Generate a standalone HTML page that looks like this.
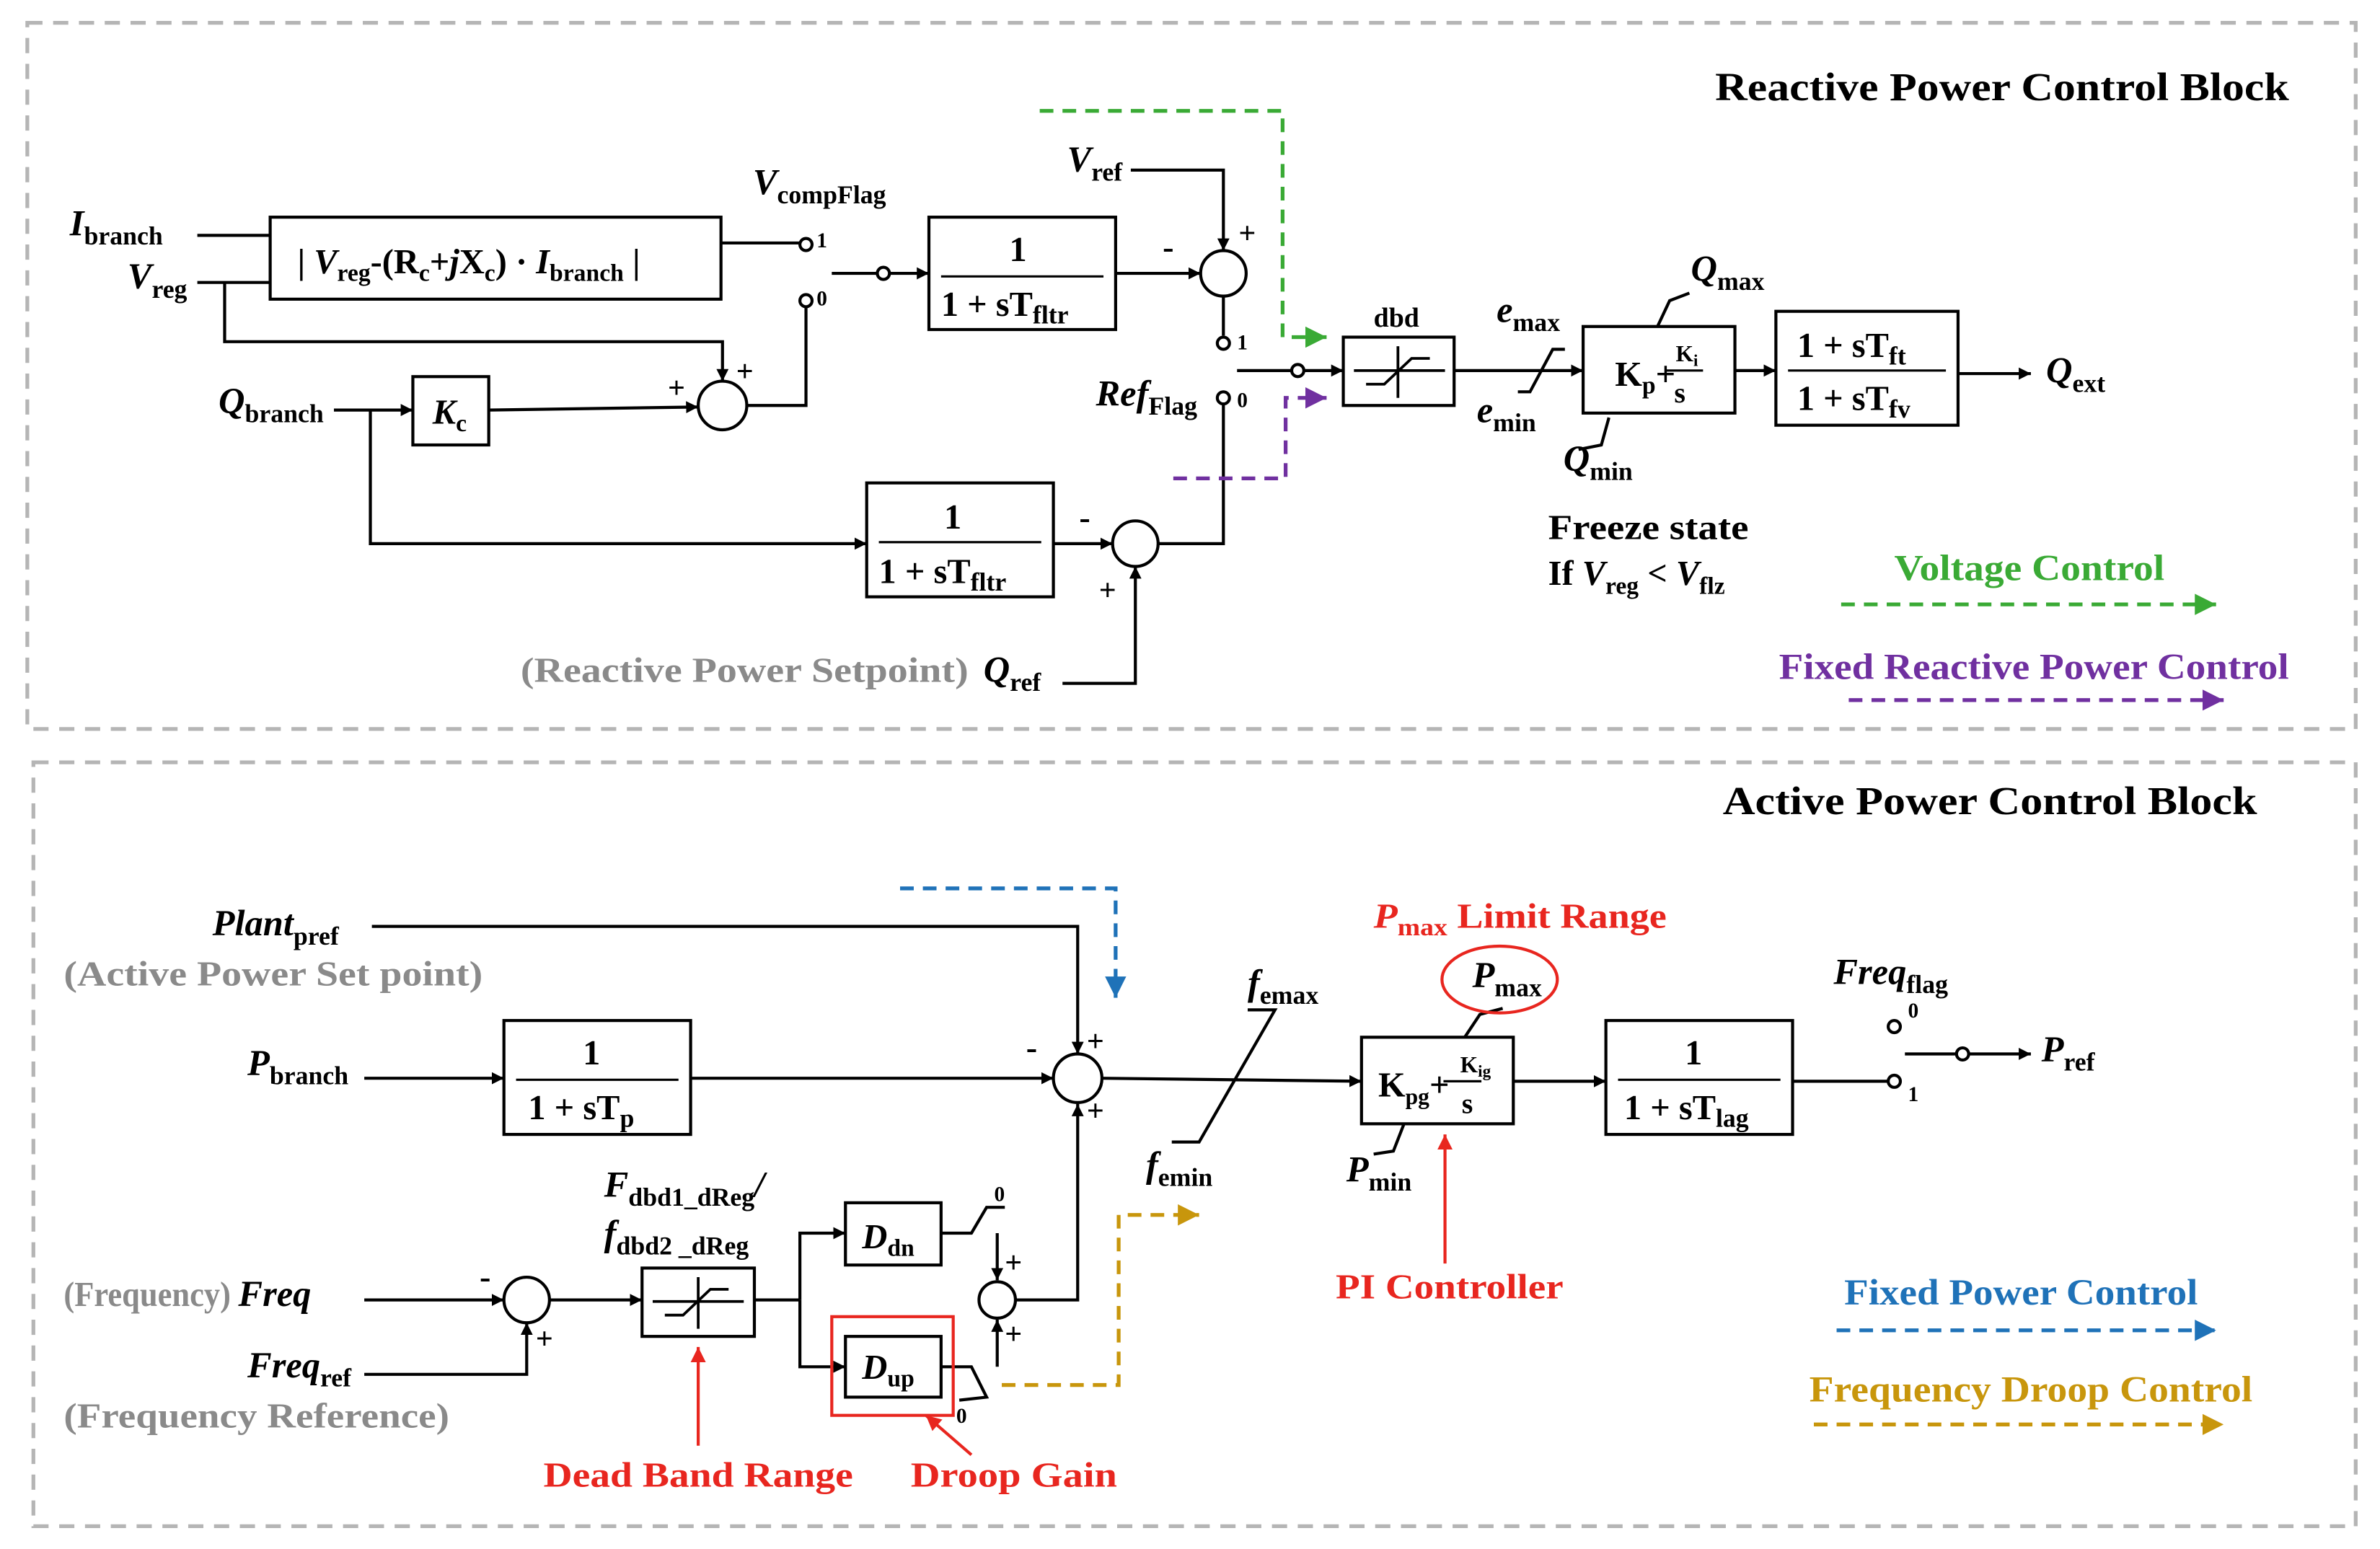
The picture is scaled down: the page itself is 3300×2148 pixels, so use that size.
<!DOCTYPE html>
<html><head><meta charset="utf-8"><style>
html,body{margin:0;padding:0;background:#fff;}
svg{display:block;}
text{font-family:"Liberation Serif",serif;font-weight:bold;fill:#000;}
.i{font-style:italic;}
.g{fill:#8a8a8a;}
.r{fill:#e8261f;}
</style></head><body>
<svg width="3300" height="2148" viewBox="0 0 1568 1020" preserveAspectRatio="none" xmlns="http://www.w3.org/2000/svg">
<defs>
<marker id="a" viewBox="0 0 10 10" refX="10" refY="5" markerWidth="8" markerHeight="8" orient="auto" markerUnits="userSpaceOnUse"><path d="M0,0 L10,5 L0,10 z" fill="#000"/></marker>
<marker id="ag" viewBox="0 0 10 10" refX="10" refY="5" markerWidth="14" markerHeight="14" orient="auto" markerUnits="userSpaceOnUse"><path d="M0,0 L10,5 L0,10 z" fill="#3aaa35"/></marker>
<marker id="ap" viewBox="0 0 10 10" refX="10" refY="5" markerWidth="14" markerHeight="14" orient="auto" markerUnits="userSpaceOnUse"><path d="M0,0 L10,5 L0,10 z" fill="#7030a0"/></marker>
<marker id="ab" viewBox="0 0 10 10" refX="10" refY="5" markerWidth="14" markerHeight="14" orient="auto" markerUnits="userSpaceOnUse"><path d="M0,0 L10,5 L0,10 z" fill="#1f72b8"/></marker>
<marker id="ay" viewBox="0 0 10 10" refX="10" refY="5" markerWidth="14" markerHeight="14" orient="auto" markerUnits="userSpaceOnUse"><path d="M0,0 L10,5 L0,10 z" fill="#c8960c"/></marker>
<marker id="ar" viewBox="0 0 10 10" refX="10" refY="5" markerWidth="10" markerHeight="10" orient="auto" markerUnits="userSpaceOnUse"><path d="M0,0 L10,5 L0,10 z" fill="#e8261f"/></marker>
</defs>
<rect width="1568" height="1020" fill="#fff"/>
<rect x="18" y="15" width="1534" height="465" fill="none" stroke="#b5b5b5" stroke-width="2.5" stroke-dasharray="10,7"/>
<rect x="22" y="502" width="1530" height="503" fill="none" stroke="#b5b5b5" stroke-width="2.5" stroke-dasharray="10,7"/>

<g stroke="#000" stroke-width="2" fill="none">
<line x1="130" y1="155" x2="178" y2="155"/>
<line x1="130" y1="186" x2="178" y2="186"/>
<rect x="178" y="143" width="297" height="54"/>
<line x1="475" y1="160" x2="527" y2="160"/>
<circle cx="531" cy="161" r="4"/>
<circle cx="531" cy="198" r="4"/>
<line x1="548" y1="180" x2="578" y2="180"/>
<circle cx="582" cy="180" r="4"/>
<line x1="586" y1="180" x2="612" y2="180" marker-end="url(#a)"/>
<rect x="612" y="143" width="123" height="74"/>
<line x1="735" y1="180" x2="791" y2="180" marker-end="url(#a)"/>
<circle cx="806" cy="180" r="15"/>
<polyline points="745,112 806,112 806,165" marker-end="url(#a)"/>
<line x1="806" y1="195" x2="806" y2="221"/>
<circle cx="806" cy="226" r="4"/>
<circle cx="806" cy="262" r="4"/>
<polyline points="763,358 806,358 806,266"/>
<line x1="815" y1="244" x2="851" y2="244"/>
<circle cx="855" cy="244" r="4"/>
<line x1="859" y1="244" x2="885" y2="244" marker-end="url(#a)"/>
<rect x="885" y="222" width="73" height="45"/>
<line x1="958" y1="244" x2="1043" y2="244" marker-end="url(#a)"/>
<polyline points="1000,258 1008,258 1023,230 1031,230"/>
<rect x="1043" y="215" width="100" height="57"/>
<polyline points="1113,193 1100,198 1092,215"/>
<polyline points="1060,275 1055,293 1040,296"/>
<line x1="1143" y1="244" x2="1170" y2="244" marker-end="url(#a)"/>
<rect x="1170" y="205" width="120" height="75"/>
<line x1="1290" y1="246" x2="1338" y2="246" marker-end="url(#a)"/>
<line x1="220" y1="270" x2="272" y2="270" marker-end="url(#a)"/>
<rect x="272" y="248" width="50" height="45"/>
<line x1="322" y1="270" x2="460" y2="268" marker-end="url(#a)"/>
<circle cx="476" cy="267" r="16"/>
<polyline points="148,186 148,225 476,225 476,251" marker-end="url(#a)"/>
<polyline points="492,267 531,267 531,202"/>
<polyline points="244,270 244,358 571,358" marker-end="url(#a)"/>
<rect x="571" y="318" width="123" height="75"/>
<line x1="694" y1="358" x2="733" y2="358" marker-end="url(#a)"/>
<circle cx="748" cy="358" r="15"/>
<polyline points="700,450 748,450 748,373" marker-end="url(#a)"/>
<polyline points="245,610 710,610 710,694" marker-end="url(#a)"/>
<line x1="240" y1="710" x2="332" y2="710" marker-end="url(#a)"/>
<rect x="332" y="672" width="123" height="75"/>
<line x1="455" y1="710" x2="694" y2="710" marker-end="url(#a)"/>
<circle cx="710" cy="710" r="16"/>
<line x1="726" y1="710" x2="897" y2="712" marker-end="url(#a)"/>
<polyline points="822,665 840,665 790,752 772,752"/>
<rect x="897" y="683" width="100" height="57"/>
<polyline points="990,664 975,668 965,683"/>
<polyline points="925,740 918,758 905,760"/>
<line x1="997" y1="712" x2="1058" y2="712" marker-end="url(#a)"/>
<rect x="1058" y="672" width="123" height="75"/>
<line x1="1181" y1="712" x2="1244" y2="712"/>
<circle cx="1248" cy="712" r="4"/>
<circle cx="1248" cy="676" r="4"/>
<line x1="1255" y1="694" x2="1289" y2="694"/>
<circle cx="1293" cy="694" r="4"/>
<line x1="1297" y1="694" x2="1338" y2="694" marker-end="url(#a)"/>
<line x1="240" y1="856" x2="332" y2="856" marker-end="url(#a)"/>
<circle cx="347" cy="856" r="15"/>
<polyline points="240,905 347,905 347,871" marker-end="url(#a)"/>
<line x1="362" y1="856" x2="423" y2="856" marker-end="url(#a)"/>
<rect x="423" y="835" width="74" height="45"/>
<line x1="497" y1="856" x2="527" y2="856"/>
<polyline points="527,856 527,812 557,812" marker-end="url(#a)"/>
<polyline points="527,856 527,900 557,900" marker-end="url(#a)"/>
<rect x="557" y="792" width="63" height="41"/>
<rect x="557" y="880" width="63" height="40"/>
<polyline points="620,812 640,812 650,795 662,795"/>
<line x1="657" y1="812" x2="657" y2="843" marker-end="url(#a)"/>
<circle cx="657" cy="856" r="12"/>
<polyline points="620,900 640,900 650,920 632,922"/>
<line x1="657" y1="900" x2="657" y2="869" marker-end="url(#a)"/>
<polyline points="669,856 710,856 710,727" marker-end="url(#a)"/>
</g>
<g stroke="#000" stroke-width="1.5">
<line x1="620" y1="182" x2="727" y2="182"/>
<line x1="579" y1="357" x2="686" y2="357"/>
<line x1="340" y1="711" x2="447" y2="711"/>
<line x1="1066" y1="711" x2="1173" y2="711"/>
<line x1="1178" y1="244" x2="1282" y2="244"/>
<line x1="1097" y1="244" x2="1122" y2="244"/>
<line x1="951" y1="712" x2="976" y2="712"/>
</g>
<g stroke="#000" stroke-width="1.8" fill="none">
<line x1="921" y1="228" x2="921" y2="262"/><line x1="892" y1="244" x2="952" y2="244"/>
<polyline points="900,253 912,253 930,236 942,236"/>
<line x1="460" y1="841" x2="460" y2="875"/><line x1="430" y1="857" x2="490" y2="857"/>
<polyline points="438,866 450,866 468,849 480,849"/>
</g>
<g fill="none" stroke-width="2.5" stroke-dasharray="9,6">
<polyline points="685,73 845,73 845,222 874,222" stroke="#3aaa35" marker-end="url(#ag)"/>
<polyline points="773,315 847,315 847,262 874,262" stroke="#7030a0" marker-end="url(#ap)"/>
<line x1="1213" y1="398" x2="1460" y2="398" stroke="#3aaa35" marker-end="url(#ag)"/>
<line x1="1218" y1="461" x2="1465" y2="461" stroke="#7030a0" marker-end="url(#ap)"/>
<polyline points="593,585 735,585 735,657" stroke="#1f72b8" marker-end="url(#ab)"/>
<polyline points="660,912 737,912 737,800 790,800" stroke="#c8960c" marker-end="url(#ay)"/>
<line x1="1210" y1="876" x2="1460" y2="876" stroke="#1f72b8" marker-end="url(#ab)"/>
<line x1="1195" y1="938" x2="1465" y2="938" stroke="#c8960c" marker-end="url(#ay)"/>
</g>
<g fill="none" stroke="#e8261f" stroke-width="2">
<ellipse cx="988" cy="645" rx="38" ry="22"/>
<rect x="548" y="867" width="80" height="65"/>
<line x1="952" y1="832" x2="952" y2="747" marker-end="url(#ar)"/>
<line x1="460" y1="952" x2="460" y2="887" marker-end="url(#ar)"/>
<line x1="640" y1="958" x2="610" y2="932" marker-end="url(#ar)"/>
</g>

<text x="1130" y="66" font-size="26" textLength="378" lengthAdjust="spacingAndGlyphs">Reactive Power Control Block</text>
<text x="46" y="155" font-size="24" class="i">I<tspan font-size="17" dy="6" font-style="normal">branch</tspan></text>
<text x="84" y="190" font-size="24" class="i">V<tspan font-size="17" dy="6" font-style="normal">reg</tspan></text>
<text x="196" y="180" font-size="23">| <tspan class="i">V</tspan><tspan font-size="16" dy="5">reg</tspan><tspan dy="-5">-(R</tspan><tspan font-size="16" dy="5">c</tspan><tspan dy="-5">+</tspan><tspan class="i">j</tspan><tspan>X</tspan><tspan font-size="16" dy="5">c</tspan><tspan dy="-5">) · </tspan><tspan class="i">I</tspan><tspan font-size="16" dy="5">branch</tspan><tspan dy="-5"> |</tspan></text>
<text x="496" y="128" font-size="24" class="i">V<tspan font-size="17" dy="6" font-style="normal">compFlag</tspan></text>
<text x="538" y="163" font-size="14">1</text>
<text x="538" y="201" font-size="14">0</text>
<text x="665" y="172" font-size="23">1</text>
<text x="620" y="208" font-size="23">1 + sT<tspan font-size="17" dy="5">fltr</tspan></text>
<text x="766" y="170" font-size="22">-</text>
<text x="816" y="160" font-size="20">+</text>
<text x="703" y="113" font-size="24" class="i">V<tspan font-size="17" dy="6" font-style="normal">ref</tspan></text>
<text x="815" y="230" font-size="14">1</text>
<text x="815" y="268" font-size="14">0</text>
<text x="722" y="267" font-size="24" class="i">Ref<tspan font-size="17" dy="6" font-style="normal">Flag</tspan></text>
<text x="905" y="215" font-size="18">dbd</text>
<text x="986" y="212" font-size="24" class="i">e<tspan font-size="17" dy="6" font-style="normal">max</tspan></text>
<text x="973" y="278" font-size="24" class="i">e<tspan font-size="17" dy="6" font-style="normal">min</tspan></text>
<text x="1064" y="254" font-size="23">K<tspan font-size="16" dy="5">p</tspan><tspan dy="-5">+</tspan></text>
<text x="1104" y="238" font-size="15">K<tspan font-size="11" dy="3">i</tspan></text>
<text x="1103" y="265" font-size="19">s</text>
<text x="1114" y="185" font-size="24" class="i">Q<tspan font-size="17" dy="6" font-style="normal">max</tspan></text>
<text x="1030" y="310" font-size="24" class="i">Q<tspan font-size="17" dy="6" font-style="normal">min</tspan></text>
<text x="1184" y="235" font-size="23">1 + sT<tspan font-size="17" dy="5">ft</tspan></text>
<text x="1184" y="270" font-size="23">1 + sT<tspan font-size="17" dy="5">fv</tspan></text>
<text x="1348" y="252" font-size="24" class="i">Q<tspan font-size="17" dy="6" font-style="normal">ext</tspan></text>
<text x="144" y="272" font-size="24" class="i">Q<tspan font-size="17" dy="6" font-style="normal">branch</tspan></text>
<text x="285" y="279" font-size="23" class="i">K<tspan font-size="16" dy="5" font-style="normal">c</tspan></text>
<text x="440" y="262" font-size="20">+</text>
<text x="485" y="251" font-size="20">+</text>
<text x="622" y="348" font-size="23">1</text>
<text x="579" y="384" font-size="23">1 + sT<tspan font-size="17" dy="5">fltr</tspan></text>
<text x="711" y="348" font-size="22">-</text>
<text x="724" y="395" font-size="20">+</text>
<text x="343" y="449" font-size="23" class="g" textLength="295" lengthAdjust="spacingAndGlyphs">(Reactive Power Setpoint)</text>
<text x="648" y="449" font-size="24" class="i">Q<tspan font-size="17" dy="6" font-style="normal">ref</tspan></text>
<text x="1020" y="355" font-size="23" textLength="132" lengthAdjust="spacingAndGlyphs">Freeze state</text>
<text x="1020" y="385" font-size="23">If <tspan class="i">V</tspan><tspan font-size="16" dy="6">reg</tspan><tspan dy="-6"> &lt; </tspan><tspan class="i">V</tspan><tspan font-size="16" dy="6">flz</tspan></text>
<text x="1248" y="382" font-size="24" style="fill:#3aaa35" textLength="178" lengthAdjust="spacingAndGlyphs">Voltage Control</text>
<text x="1172" y="447" font-size="24" style="fill:#7030a0" textLength="336" lengthAdjust="spacingAndGlyphs">Fixed Reactive Power Control</text>

<text x="1135" y="536" font-size="26" textLength="352" lengthAdjust="spacingAndGlyphs">Active Power Control Block</text>
<text x="140" y="616" font-size="24" class="i">Plant<tspan font-size="17" dy="6" font-style="normal">pref</tspan></text>
<text x="42" y="649" font-size="23" class="g" textLength="276" lengthAdjust="spacingAndGlyphs">(Active Power Set point)</text>
<text x="163" y="708" font-size="24" class="i">P<tspan font-size="17" dy="6" font-style="normal">branch</tspan></text>
<text x="384" y="701" font-size="23">1</text>
<text x="348" y="737" font-size="23">1 + sT<tspan font-size="17" dy="5">p</tspan></text>
<text x="676" y="697" font-size="22">-</text>
<text x="716" y="692" font-size="20">+</text>
<text x="716" y="738" font-size="20">+</text>
<text x="822" y="655" font-size="24" class="i">f<tspan font-size="17" dy="6" font-style="normal">emax</tspan></text>
<text x="755" y="775" font-size="24" class="i">f<tspan font-size="17" dy="6" font-style="normal">emin</tspan></text>
<text x="905" y="611" font-size="23" class="r" textLength="193" lengthAdjust="spacingAndGlyphs"><tspan class="i">P</tspan><tspan font-size="16" dy="5">max</tspan><tspan dy="-5"> Limit Range</tspan></text>
<text x="970" y="650" font-size="24" class="i">P<tspan font-size="17" dy="6" font-style="normal">max</tspan></text>
<text x="908" y="722" font-size="23">K<tspan font-size="15" dy="5">pg</tspan><tspan dy="-5">+</tspan></text>
<text x="962" y="706" font-size="15">K<tspan font-size="11" dy="3">ig</tspan></text>
<text x="963" y="733" font-size="19">s</text>
<text x="887" y="778" font-size="24" class="i">P<tspan font-size="17" dy="6" font-style="normal">min</tspan></text>
<text x="880" y="855" font-size="23" class="r" textLength="150" lengthAdjust="spacingAndGlyphs">PI Controller</text>
<text x="1110" y="701" font-size="23">1</text>
<text x="1070" y="737" font-size="23">1 + sT<tspan font-size="17" dy="5">lag</tspan></text>
<text x="1208" y="648" font-size="24" class="i">Freq<tspan font-size="17" dy="6" font-style="normal">flag</tspan></text>
<text x="1257" y="670" font-size="14">0</text>
<text x="1257" y="725" font-size="14">1</text>
<text x="1345" y="699" font-size="24" class="i">P<tspan font-size="17" dy="6" font-style="normal">ref</tspan></text>
<text x="42" y="860" font-size="23" class="g" textLength="110" lengthAdjust="spacingAndGlyphs">(Frequency)</text>
<text x="157" y="860" font-size="24" class="i">Freq</text>
<text x="316" y="848" font-size="22">-</text>
<text x="353" y="888" font-size="20">+</text>
<text x="163" y="907" font-size="24" class="i">Freq<tspan font-size="17" dy="6" font-style="normal">ref</tspan></text>
<text x="42" y="940" font-size="23" class="g" textLength="254" lengthAdjust="spacingAndGlyphs">(Frequency Reference)</text>
<text x="398" y="788" font-size="24" class="i">F<tspan font-size="17" dy="6" font-style="normal">dbd1_dReg</tspan><tspan dy="-6">/</tspan></text>
<text x="398" y="820" font-size="24" class="i">f<tspan font-size="17" dy="6" font-style="normal">dbd2 _dReg</tspan></text>
<text x="568" y="822" font-size="23" class="i">D<tspan font-size="16" dy="5" font-style="normal">dn</tspan></text>
<text x="568" y="908" font-size="23" class="i">D<tspan font-size="16" dy="5" font-style="normal">up</tspan></text>
<text x="655" y="791" font-size="14">0</text>
<text x="630" y="937" font-size="14">0</text>
<text x="662" y="838" font-size="20">+</text>
<text x="662" y="885" font-size="20">+</text>
<text x="358" y="979" font-size="23" class="r" textLength="204" lengthAdjust="spacingAndGlyphs">Dead Band Range</text>
<text x="600" y="979" font-size="23" class="r" textLength="136" lengthAdjust="spacingAndGlyphs">Droop Gain</text>
<text x="1215" y="859" font-size="24" style="fill:#1f72b8" textLength="233" lengthAdjust="spacingAndGlyphs">Fixed Power Control</text>
<text x="1192" y="923" font-size="24" style="fill:#c8960c" textLength="292" lengthAdjust="spacingAndGlyphs">Frequency Droop Control</text>
</svg>
</body></html>
